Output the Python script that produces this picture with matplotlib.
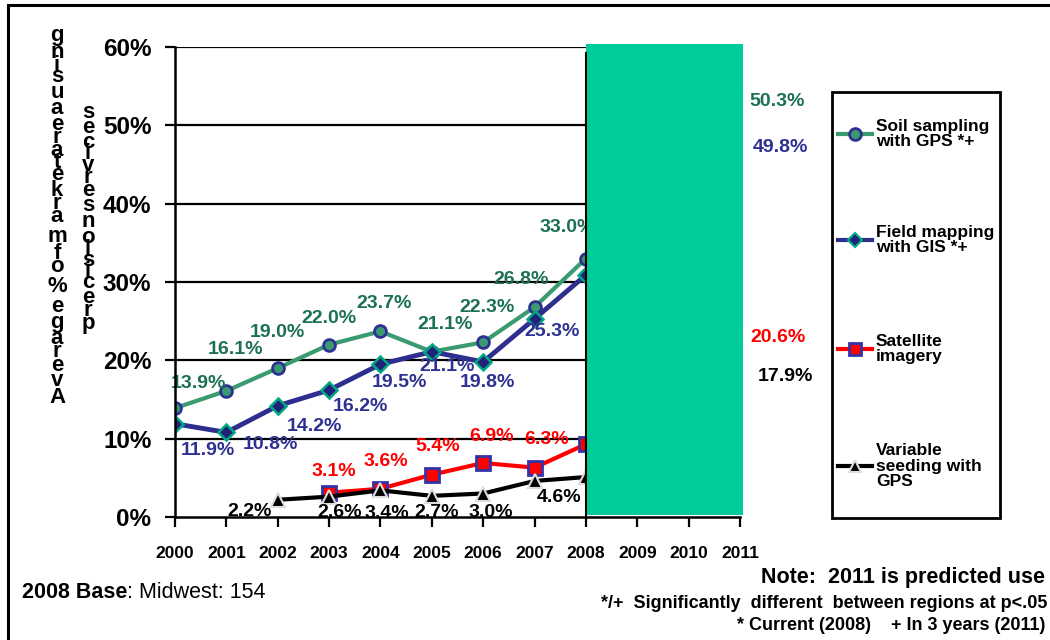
import numpy as np
import matplotlib
matplotlib.use("Agg")
import matplotlib.pyplot as plt
from matplotlib.lines import Line2D
from matplotlib.patches import Rectangle

plt.rcParams['font.family'] = ['Liberation Sans', 'DejaVu Sans']

# ---------------- data ----------------
years = [2000, 2001, 2002, 2003, 2004, 2005, 2006, 2007, 2008, 2011]
soil_sampling = [13.9, 16.1, 19.0, 22.0, 23.7, 21.1, 22.3, 26.8, 33.0, 50.3]
field_mapping = [11.9, 10.8, 14.2, 16.2, 19.5, 21.1, 19.8, 25.3, 30.9, 49.8]
satellite = [np.nan, np.nan, np.nan, 3.1, 3.6, 5.4, 6.9, 6.3, 9.3, 20.6]
var_seeding = [np.nan, np.nan, 2.2, 2.6, 3.4, 2.7, 3.0, 4.6, 5.1, 17.9]
tick_years = list(range(2000, 2012))
y_ticks = [0, 10, 20, 30, 40, 50, 60]
series_names = ["Soil sampling\nwith GPS *+", "Field mapping\nwith GIS *+",
                "Satellite\nimagery", "Variable\nseeding with\nGPS"]

# label offsets (pixels, +x right, +y down); None = label hidden
off_soil = [(23, -25), (9, -41), (0, -36), (0, -26), (4, -28), (13, -27), (4, -35), (-13, -28), (-19, -31), (37, -21)]
off_field = [(33, 27), (44, 12), (37, 21), (31, 16), (19, 18), (15, 15), (4, 21), (18, 13), None, (40, 21)]
off_sat = [None, None, None, (5, -21), (5, -27), (6, -28), (8, -26), (12, -28), None, (38, -18)]
off_seed = [None, None, (-28, 12), (11, 16), (6, 23), (5, 17), (8, 19), (25, 17), None, (45, 0)]

W, H = 1050, 640
fig = plt.figure(figsize=(W / 100, H / 100), dpi=100)
fig.patch.set_facecolor('white')

ax = fig.add_axes([175 / W, 1 - 517 / H, (740 - 175) / W, (517 - 47) / H])
ax.set_xlim(2000, 2011)
ax.set_ylim(0, 60)
ax.set_facecolor('white')

GREEN = '#3A9A70'
GREEN_TXT = '#1C7055'
NAVY = '#2E2E8E'
RED = '#FF0000'
TEAL = '#00A884'

for yv in y_ticks[1:]:
    ax.axhline(yv, color='black', lw=1.6, zorder=1)

ax.plot(years, soil_sampling, color=GREEN, lw=3, marker='o', ms=8.5,
        mfc=GREEN, mec='#2E3192', mew=2, zorder=3)
ax.plot(years, field_mapping, color=NAVY, lw=3.5, marker='D', ms=8,
        mfc='#22227A', mec=TEAL, mew=1.8, zorder=3.1)
sat_y = np.array(satellite, dtype=float)
m = ~np.isnan(sat_y)
ax.plot(np.array(years)[m], sat_y[m], color=RED, lw=3, marker='s', ms=10,
        mfc=RED, mec='#3333AA', mew=2, zorder=3.2)
seed_y = np.array(var_seeding, dtype=float)
m2 = ~np.isnan(seed_y)
ax.plot(np.array(years)[m2], seed_y[m2], color='black', lw=3, marker='^', ms=10,
        mfc='black', mec='#DDDDDD', mew=1.5, zorder=3.3)


def add_labels(vals, offs, color):
    for x, v, o in zip(years, vals, offs):
        if o is None or (isinstance(v, float) and np.isnan(v)):
            continue
        ax.annotate(f"{v:.1f}%", (x, v), xytext=(o[0], -o[1]), textcoords='offset pixels',
                    ha='center', va='center', fontsize=14, fontweight='bold',
                    color=color, zorder=5, annotation_clip=False)


add_labels(soil_sampling, off_soil, GREEN_TXT)
add_labels(field_mapping, off_field, '#2E3192')
add_labels(satellite, off_sat, RED)
add_labels(var_seeding, off_seed, 'black')

# green overlay block
ax.add_patch(Rectangle((2008, 0.2), 3.05, 60.2, facecolor='#00CC99', edgecolor='none',
                       zorder=6, clip_on=False))
ax.plot([2008, 2008], [0, 59.2], color='black', lw=1.5, zorder=6.5)

for s in ['top', 'right']:
    ax.spines[s].set_visible(False)
for s in ['left', 'bottom']:
    ax.spines[s].set_linewidth(1.8)
    ax.spines[s].set_zorder(5.5)

ax.set_xticks(tick_years)
ax.set_xticklabels([str(y) for y in tick_years], fontsize=12.5, fontweight='bold')
ax.set_yticks(y_ticks)
ax.set_yticklabels([f"{v}%" for v in y_ticks], fontsize=17.5, fontweight='bold')
ax.tick_params(axis='y', direction='out', length=7, width=1.6, pad=10)
ax.tick_params(axis='x', direction='out', length=7, width=1.6, pad=14)

# stacked, reversed y-axis label (two columns)
adv = {'g': .611, 'n': .611, 'i': .278, 's': .556, 'u': .611, 'a': .556, 'e': .556,
       'r': .389, 't': .333, 'k': .556, 'm': .889, 'f': .333, 'o': .611, '%': .889,
       'v': .556, 'A': .722, 'c': .556, 'p': .611}


def stacked(text, xc, y0, em):
    chars = [c for c in text[::-1] if c != ' ']
    y = y0
    prev = None
    for c in chars:
        if prev is not None:
            y += (adv[prev] + adv[c]) / 2 * em
        fig.text(xc / W, 1 - y / H, c, ha='center', va='center', fontsize=16,
                 fontweight='bold', color='black')
        prev = c


stacked("Average % of market area using", 57, 36, 27.6)
stacked("precision services", 88, 113, 26.8)

# legend (manual box)
fig.patches.append(Rectangle((832 / W, 1 - 518 / H), 168 / W, 426 / H, transform=fig.transFigure,
                             facecolor='white', edgecolor='black', lw=2, zorder=1))
leg_styles = [
    dict(color=GREEN, lw=3, marker='o', ms=8.5, mfc=GREEN, mec='#2E3192', mew=2),
    dict(color=NAVY, lw=3, marker='D', ms=7, mfc='#22227A', mec=TEAL, mew=1.5),
    dict(color=RED, lw=3, marker='s', ms=9, mfc=RED, mec='#3333AA', mew=2),
    dict(color='black', lw=3, marker='^', ms=8, mfc='black', mec='#DDDDDD', mew=1.5),
]
leg_y = [134, 240, 349, 466]
for name, st, yc in zip(series_names, leg_styles, leg_y):
    ln = Line2D([838 / W, 855 / W, 872 / W], [1 - yc / H] * 3, transform=fig.transFigure,
                markevery=[1], zorder=3, **st)
    fig.lines.append(ln)
    fig.text(876 / W, 1 - yc / H, name, ha='left', va='center', fontsize=12.5,
             fontweight='bold', linespacing=1.05, zorder=3)

# frame around figure
fig.patches.append(Rectangle((8 / W, -0.05), 1.1, 1 - 5 / H + 0.05, transform=fig.transFigure,
                             facecolor='none', edgecolor='black', lw=2.2, zorder=0))

# bottom notes
renderer = fig.canvas.get_renderer()
t1 = fig.text(22 / W, 1 - 592 / H, "2008 Base", ha='left', va='center', fontsize=15.5, fontweight='bold')
bb = t1.get_window_extent(renderer)
fig.text(bb.x1 / W, 1 - 592 / H, ": Midwest: 154", ha='left', va='center', fontsize=15.5)
fig.text(1045 / W, 1 - 578 / H, "Note:  2011 is predicted use", ha='right', va='center',
         fontsize=15.5, fontweight='bold')
fig.text(1047 / W, 1 - 603 / H, "*/+  Significantly  different  between regions at p<.05",
         ha='right', va='center', fontsize=13, fontweight='bold')
fig.text(1045 / W, 1 - 625 / H, "* Current (2008)    + In 3 years (2011)", ha='right', va='center',
         fontsize=13, fontweight='bold')

fig.savefig("out.png", dpi=100)
